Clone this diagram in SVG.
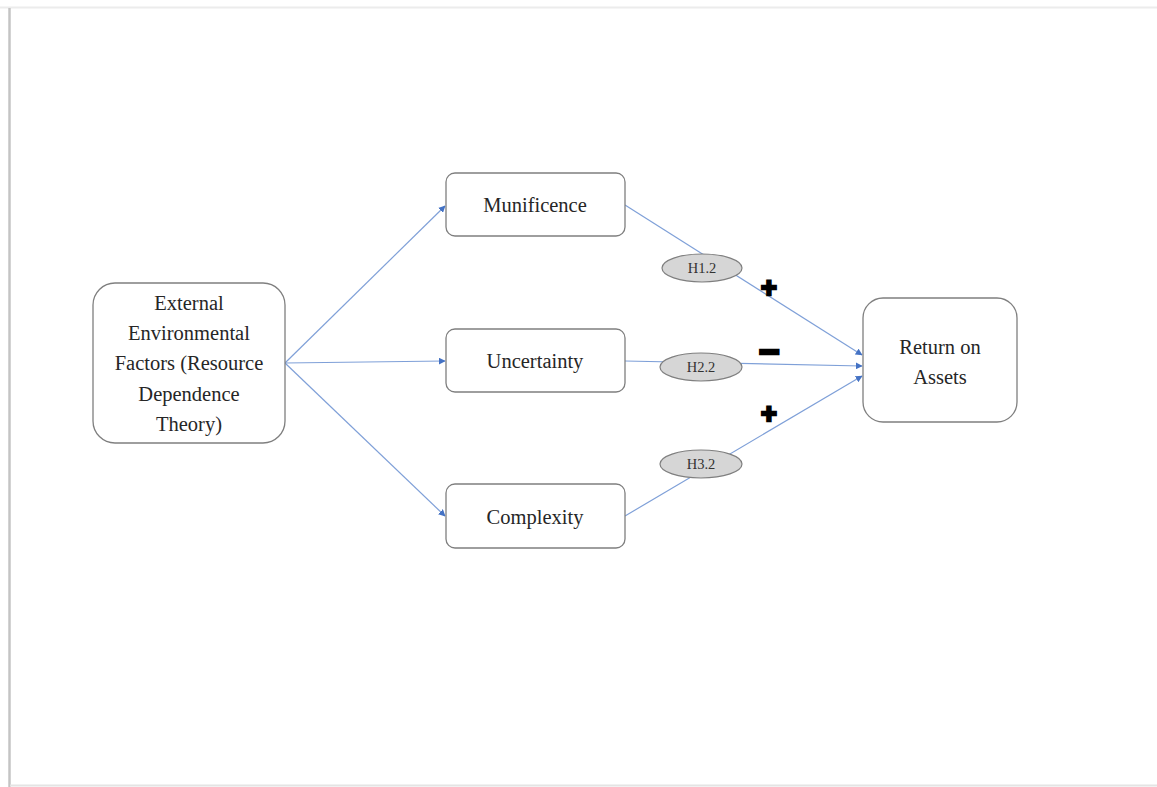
<svg xmlns="http://www.w3.org/2000/svg" width="1157" height="787" viewBox="0 0 1157 787">
<defs>
<style>
.box{fill:#fff;stroke:#7f7f7f;stroke-width:1.3}
.lbl{font-family:"Liberation Serif","Times New Roman",serif;font-size:20.5px;fill:#262626;text-anchor:middle}
.hyp{fill:#d6d6d6;stroke:#7f7f7f;stroke-width:1.2}
.htx{font-family:"Liberation Serif","Times New Roman",serif;font-size:14.5px;fill:#333;text-anchor:middle}
.con{fill:none;stroke:#7fa0d8;stroke-width:1.2}
.sgn{font-family:"Liberation Sans",Arial,sans-serif;font-weight:bold;fill:#000;stroke:#000;stroke-width:2.5;text-anchor:middle}
</style>
<marker id="arr" viewBox="0 0 10 10" refX="9" refY="5" markerWidth="7" markerHeight="7" markerUnits="userSpaceOnUse" orient="auto">
<path d="M0,0 L10,5 L0,10 z" fill="#4472c4"/>
</marker>
</defs>
<rect x="0" y="0" width="1157" height="787" fill="#fff"/>
<g id="page">
<line x1="0" y1="7.5" x2="1157" y2="7.5" stroke="#ececec" stroke-width="2"/>
<line x1="9.5" y1="8" x2="9.5" y2="787" stroke="#c4c4c4" stroke-width="2.5"/>
<line x1="10" y1="785.5" x2="1157" y2="785.5" stroke="#e4e4e4" stroke-width="2"/>
</g>
<g id="connectors">
<line class="con" x1="285" y1="363" x2="445" y2="206" marker-end="url(#arr)"/>
<line class="con" x1="285" y1="363" x2="445" y2="361" marker-end="url(#arr)"/>
<line class="con" x1="285" y1="363" x2="445" y2="516" marker-end="url(#arr)"/>
<line class="con" x1="625" y1="205" x2="862" y2="355" marker-end="url(#arr)"/>
<line class="con" x1="625" y1="361" x2="862" y2="366" marker-end="url(#arr)"/>
<line class="con" x1="625" y1="516" x2="862" y2="376" marker-end="url(#arr)"/>
</g>
<g id="external">
<rect class="box" x="93" y="283" width="192" height="160" rx="22"/>
<text class="lbl" x="189" y="310">External</text>
<text class="lbl" x="189" y="340">Environmental</text>
<text class="lbl" x="189" y="370">Factors (Resource</text>
<text class="lbl" x="189" y="401">Dependence</text>
<text class="lbl" x="189" y="431">Theory)</text>
</g>
<g id="munificence">
<rect class="box" x="446" y="173" width="179" height="63" rx="9"/>
<text class="lbl" x="535" y="212">Munificence</text>
</g>
<g id="uncertainty">
<rect class="box" x="446" y="329" width="179" height="63" rx="9"/>
<text class="lbl" x="535" y="368">Uncertainty</text>
</g>
<g id="complexity">
<rect class="box" x="446" y="484" width="179" height="64" rx="9"/>
<text class="lbl" x="535" y="524">Complexity</text>
</g>
<g id="roa">
<rect class="box" x="863" y="298" width="154" height="124" rx="20"/>
<text class="lbl" x="940" y="354">Return on</text>
<text class="lbl" x="940" y="384">Assets</text>
</g>
<g id="h12">
<ellipse class="hyp" cx="702" cy="268" rx="40" ry="14"/>
<text class="htx" x="702" y="273">H1.2</text>
</g>
<g id="h22">
<ellipse class="hyp" cx="701" cy="367" rx="41" ry="14"/>
<text class="htx" x="701" y="372">H2.2</text>
</g>
<g id="h32">
<ellipse class="hyp" cx="701" cy="464" rx="41" ry="14"/>
<text class="htx" x="701" y="469">H3.2</text>
</g>
<g id="signs">
<text class="sgn" x="769" y="297" font-size="27">+</text>
<text class="sgn" x="769" y="364" font-size="36">−</text>
<text class="sgn" x="769" y="423" font-size="27">+</text>
</g>
</svg>
